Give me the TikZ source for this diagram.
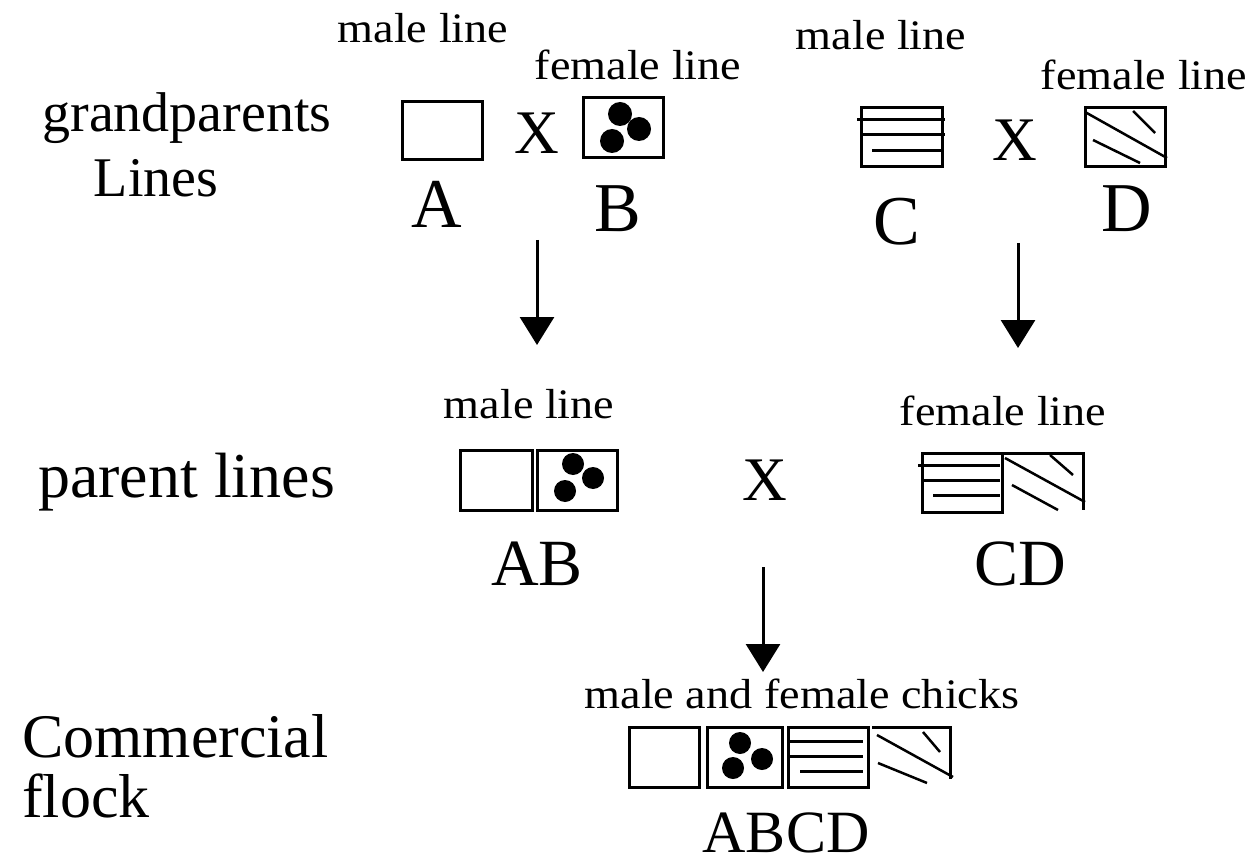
\documentclass[tikz,border=0pt]{standalone}
\usepackage{fontspec}
\setmainfont{Liberation Serif}
\usetikzlibrary{arrows.meta}
\tikzset{
  biglabel/.style={anchor=base, inner sep=0pt, font=\fontsize{56}{56}\selectfont},
  smalllabel/.style={anchor=base, inner sep=0pt, font=\fontsize{42}{42}\selectfont, xscale=1.1},
  letterlabel/.style={anchor=base, inner sep=0pt, font=\fontsize{70}{70}\selectfont},
  pairlabel/.style={anchor=base, inner sep=0pt, font=\fontsize{66}{66}\selectfont},
  crossmark/.style={anchor=center, inner sep=0pt, font=\fontsize{62}{62}\selectfont},
  boxline/.style={line width=3pt},
  hatchline/.style={line width=2.5pt},
  blob/.style={fill=black},
  arr/.style={line width=3pt, -{Triangle[width=34pt,length=28pt]}},
}
\begin{document}
\begin{tikzpicture}[x=1pt,y=-1pt]
\useasboundingbox (0,0) rectangle (1249,866);

% ---- left row labels
\node[biglabel] (gp) at (187,132) {grandparents};
\node[biglabel] (gpl) at (156,197) {Lines};
\node[biglabel, anchor=base west, font=\fontsize{64}{64}\selectfont] (pl) at (38,497) {parent lines};
\node[biglabel, anchor=base west, font=\fontsize{62}{62}\selectfont] (cf1) at (22,757) {Commercial};
\node[biglabel, anchor=base west, font=\fontsize{62}{62}\selectfont] (cf2) at (22,817) {flock};

% ---- grandparents row
\node[smalllabel] (ml1) at (423,43) {male line};
\node[smalllabel] (fl1) at (638,80) {female line};
\node[smalllabel] (ml2) at (881,50) {male line};
\node[smalllabel] (fl2) at (1144,90) {female line};

% box A
\draw[boxline] (402,102) rectangle (482,160);
% box B
\draw[boxline] (583,98) rectangle (663,158);
\fill[blob] (620,114) circle (12) (639,129) circle (12) (612,141) circle (12);
% box C
\draw[boxline] (861,108) rectangle (942,167);
\draw[boxline] (857,120) -- (945,120) (861,135) -- (945,135) (872,151) -- (942,151);
% box D
\draw[boxline] (1085,108) rectangle (1165,167);
\draw[hatchline] (1085,112) -- (1167,158) (1093,140) -- (1140,163) (1133,111) -- (1155,133);

\node[crossmark] (x1) at (537,133) {X};
\node[crossmark] (x2) at (1015,140) {X};

\node[letterlabel] (lA) at (437,228) {A};
\node[letterlabel] (lB) at (618,232) {B};
\node[letterlabel] (lC) at (897,245) {C};
\node[letterlabel] (lD) at (1127,232) {D};

\coordinate (a1s) at (537,240);
\coordinate (a1e) at (537,345);
\coordinate (a2s) at (1018,243);
\coordinate (a2e) at (1018,348);
\draw[arr] (a1s) -- (a1e);
\draw[arr] (a2s) -- (a2e);

% ---- parent row
\node[smalllabel] (ml3) at (529,418) {male line};
\node[smalllabel] (fl3) at (1003,425) {female line};

\draw[boxline] (460,450) rectangle (532,510);
\draw[boxline] (537,450) rectangle (617,510);
\fill[blob] (573,464) circle (11) (593,478) circle (11) (565,491) circle (11);

\draw[boxline] (922,453) rectangle (1002,512);
\draw[boxline] (918,465) -- (1000,465) (922,480) -- (1000,480) (933,495) -- (1000,495);
\draw[boxline] (1002,453) -- (1083,453) -- (1083,510);
\draw[hatchline] (1005,458) -- (1085,502) (1012,485) -- (1058,510) (1050,455) -- (1073,475);

\node[crossmark] (x3) at (765,480) {X};

\node[pairlabel] (lAB) at (537,585) {AB};
\node[pairlabel] (lCD) at (1020,585) {CD};

\coordinate (a3s) at (763,567);
\coordinate (a3e) at (763,672);
\draw[arr] (a3s) -- (a3e);

% ---- commercial row
\node[smalllabel] (mf) at (802,708) {male and female chicks};

\draw[boxline] (629,727) rectangle (699,787);
\draw[boxline] (707,727) rectangle (782,787);
\fill[blob] (740,743) circle (11) (762,759) circle (11) (733,768) circle (11);
\draw[boxline] (788,727) rectangle (868,787);
\draw[boxline] (787,741) -- (863,741) (788,756) -- (863,756) (800,771) -- (863,771);
\draw[boxline] (872,727) -- (950,727) -- (950,779);
\draw[hatchline] (877,735) -- (953,777) (878,763) -- (927,783) (923,732) -- (940,752);

\node[pairlabel, font=\fontsize{60}{60}\selectfont] (lABCD) at (786,852) {ABCD};
\end{tikzpicture}
\end{document}
